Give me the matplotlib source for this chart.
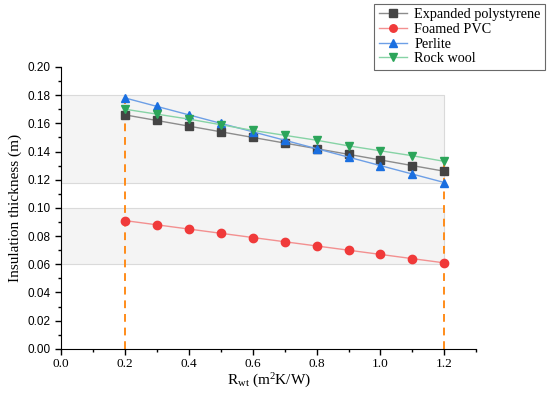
import matplotlib.pyplot as plt
from matplotlib.ticker import MultipleLocator
import numpy as np

# data
r_wt = [0.2, 0.3, 0.4, 0.5, 0.6, 0.7, 0.8, 0.9, 1.0, 1.1, 1.2]
eps = [0.166, 0.162, 0.158, 0.154, 0.150, 0.146, 0.142, 0.138, 0.134, 0.130, 0.126]
pvc = [0.091, 0.088, 0.085, 0.082, 0.079, 0.076, 0.073, 0.070, 0.067, 0.064, 0.061]
perlite = [0.178, 0.172, 0.166, 0.160, 0.154, 0.148, 0.142, 0.136, 0.130, 0.124, 0.118]
rock_wool = [0.170, 0.1665, 0.163, 0.159, 0.155, 0.1515, 0.148, 0.144, 0.1405, 0.137, 0.133]

band_low = [0.06, 0.10]
band_high = [0.118, 0.18]

serif = ['Liberation Serif', 'DejaVu Serif']
sans = ['Liberation Sans', 'DejaVu Sans']

plt.rcParams['mathtext.fontset'] = 'custom'
plt.rcParams['mathtext.rm'] = 'Liberation Serif'
plt.rcParams['mathtext.it'] = 'Liberation Serif:italic'

fig = plt.figure(figsize=(5.5, 3.96), dpi=100)
ax = fig.add_axes([0.111, 0.119, 0.755, 0.712])

# shaded bands
for lo, hi in (band_low, band_high):
    ax.fill_between([0, r_wt[-1]], lo, hi, facecolor='#f4f4f4',
                    edgecolor='#dadada', linewidth=0.8, zorder=0)

series = [
    ('Expanded polystyrene', eps, 's', '#444444', '#8c8c8c'),
    ('Foamed PVC', pvc, 'o', '#f03a3a', '#f39090'),
    ('Perlite', perlite, '^', '#1a6fe0', '#6d9fe6'),
    ('Rock wool', rock_wool, 'v', '#2ca55a', '#86d3a5'),
]
handles = []
for name, vals, mk, mc, lc in series:
    h, = ax.plot(r_wt, vals, color=lc, linewidth=1.0, marker=mk, markersize=6,
                 markerfacecolor=mc, markeredgecolor=mc, label=name, zorder=3)
    handles.append(h)

# dashed guides at the ends of the range
all_vals = np.array([eps, pvc, perlite, rock_wool])
for i in (0, len(r_wt) - 1):
    ax.vlines(r_wt[i], 0, all_vals[:, i].max(), colors='#ff8c1a',
              linestyles=(0, (4, 3)), linewidth=1.4, zorder=2)

ax.set_xlim(0, 1.3)
ax.set_ylim(0, 0.2)
ax.spines['top'].set_visible(False)
ax.spines['right'].set_visible(False)
ax.xaxis.set_major_locator(MultipleLocator(0.2))
ax.xaxis.set_minor_locator(MultipleLocator(0.1))
ax.yaxis.set_major_locator(MultipleLocator(0.02))
ax.yaxis.set_minor_locator(MultipleLocator(0.01))
ax.tick_params(which='major', direction='out', length=4, width=1)
ax.tick_params(which='minor', direction='out', length=2.5, width=1)
ax.tick_params(axis='x', pad=2.5)
ax.set_xticks(np.arange(0, 1.21, 0.2))
ax.set_xticklabels(['%.1f' % v for v in np.arange(0, 1.21, 0.2)],
                   family=serif, fontsize=9.5)
yt = np.arange(0, 0.201, 0.02)
ax.set_yticks(yt)
ax.set_yticklabels(['%.2f' % v for v in yt], family=sans, fontsize=8.5)

ax.set_xlabel(r'R$_{\mathrm{wt}}$ (m$^{2}$K/W)', family=serif, fontsize=11,
              labelpad=1)
ax.set_ylabel('Insulation thickness (m)', family=serif, fontsize=11)

leg = fig.legend(handles=handles, loc='upper right',
                 bbox_to_anchor=(0.991, 0.99), prop={'family': serif, 'size': 10.3},
                 frameon=True, fancybox=False, edgecolor='#444444',
                 handlelength=2.0, handletextpad=0.5, borderpad=0.3,
                 borderaxespad=0, labelspacing=0.12, markerscale=0.9)
leg.get_frame().set_linewidth(0.8)

fig.savefig('out.png', dpi=100)
